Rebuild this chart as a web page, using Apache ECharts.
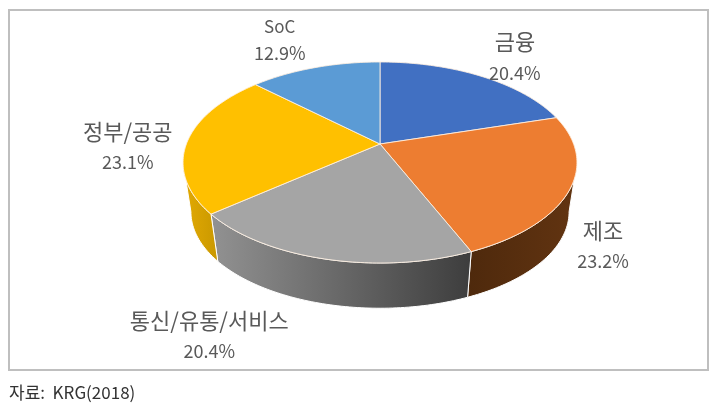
<!DOCTYPE html>
<html>
<head>
<meta charset="utf-8">
<style>html,body{margin:0;padding:0;background:#fff}#c{width:727px;height:414px}</style>
<script src="https://cdn.jsdelivr.net/npm/echarts@6/dist/echarts.min.js"></script>
</head>
<body>
<div id="c"></div>
<script>
const categories = ['금융', '제조', '통신/유통/서비스', '정부/공공', 'SoC'];
const values = [20.4, 23.2, 20.4, 23.1, 12.9];
const sourceNote = '자료:  KRG(2018)';

const topColors = ['#4170c2', '#ed7d31', '#a5a5a5', '#ffc000', '#5b9bd5'];
const wallColors = [
  ['#2a4a80', '#2a4a80'],
  ['#4e290c', '#623411'],
  ['#929292', '#3d3d3d'],
  ['#e3aa03', '#c99800'],
  ['#3a6a96', '#3a6a96']
];
const labelOffsets = [[34, -19], [33, 57], [-115, 77], [-60, 6], [-35, -28]];

const FONT = '"Noto Sans CJK KR", "Noto Sans", sans-serif';
const CX = 380, CY = 144, B = 193.6, A = 97.1, K = 0.184;
const WALL_SCALE = 0.96, WALL_DROP = 50;
const total = values.reduce((s, v) => s + v, 0);

function project(deg, scale, drop) {
  const t = deg * Math.PI / 180, u = Math.sin(t), v = -Math.cos(t), d = 1 - K * v;
  return [CX + scale * B * u / d, CY + drop + scale * A * v / d];
}
function sliceRange(i) {
  const before = values.slice(0, i).reduce((s, v) => s + v, 0);
  return [before / total * 360, (before + values[i]) / total * 360];
}
function arc(a0, a1, scale, drop) {
  const pts = [], n = Math.max(2, Math.ceil(Math.abs(a1 - a0)));
  for (let j = 0; j <= n; j++) pts.push(project(a0 + (a1 - a0) * j / n, scale, drop));
  return pts;
}

const FRONT0 = Math.acos(-K) * 180 / Math.PI, FRONT1 = 360 - FRONT0;

function renderWall(params) {
  const i = params.dataIndex, r = sliceRange(i);
  const a0 = Math.max(r[0], FRONT0), a1 = Math.min(r[1], FRONT1);
  if (a1 <= a0) return { type: 'group', children: [] };
  const pts = arc(a0, a1, 1, 0).concat(arc(a1, a0, WALL_SCALE, WALL_DROP));
  return {
    type: 'polygon',
    shape: { points: pts },
    style: {
      fill: new echarts.graphic.LinearGradient(0, 0, 1, 0, [
        { offset: 0, color: wallColors[i][0] },
        { offset: 1, color: wallColors[i][1] }
      ]),
      stroke: '#ffffff', lineWidth: 1, lineJoin: 'round'
    }
  };
}

function renderTop(params) {
  const i = params.dataIndex, r = sliceRange(i);
  const pts = [[CX, CY]].concat(arc(r[0], r[1], 1, 0));
  return {
    type: 'polygon',
    shape: { points: pts },
    style: { fill: topColors[i], stroke: 'rgba(255,240,225,0.85)', lineWidth: 1, lineJoin: 'round' }
  };
}

function renderLabel(params) {
  const i = params.dataIndex, r = sliceRange(i);
  const m = project((r[0] + r[1]) / 2, 1, 0), o = labelOffsets[i];
  const x = m[0] + o[0], y = m[1] + o[1];
  const small = categories[i] === 'SoC';
  return {
    type: 'group',
    children: [
      { type: 'text', style: { x: x, y: y - (small ? 13.5 : 15.5), text: categories[i], align: 'center', verticalAlign: 'middle',
          font: (small ? 17 : 22) + 'px ' + FONT, fill: '#595959' } },
      { type: 'text', style: { x: x, y: y + (small ? 13.5 : 15.5), text: values[i].toFixed(1) + '%', align: 'center', verticalAlign: 'middle',
          font: '18px ' + FONT, fill: '#595959' } }
    ]
  };
}

const chart = echarts.init(document.getElementById('c'), null, { renderer: 'canvas' });
chart.setOption({
  animation: false,
  backgroundColor: '#ffffff',
  graphic: [
    { type: 'rect', z: 0, shape: { x: 9, y: 10, width: 699, height: 360 },
      style: { fill: '#ffffff', stroke: '#bfbfbf', lineWidth: 2 } },
    { type: 'text', z: 10, style: { x: 9, y: 393, text: sourceNote, verticalAlign: 'middle',
        font: '17px ' + FONT, fill: '#333333' } }
  ],
  series: [
    { type: 'custom', coordinateSystem: 'none', z: 2, silent: true, data: values, renderItem: renderWall },
    { type: 'custom', coordinateSystem: 'none', z: 3, silent: true, data: values, renderItem: renderTop },
    { type: 'custom', coordinateSystem: 'none', z: 4, silent: true, data: values, renderItem: renderLabel }
  ]
});
</script>
</body>
</html>
